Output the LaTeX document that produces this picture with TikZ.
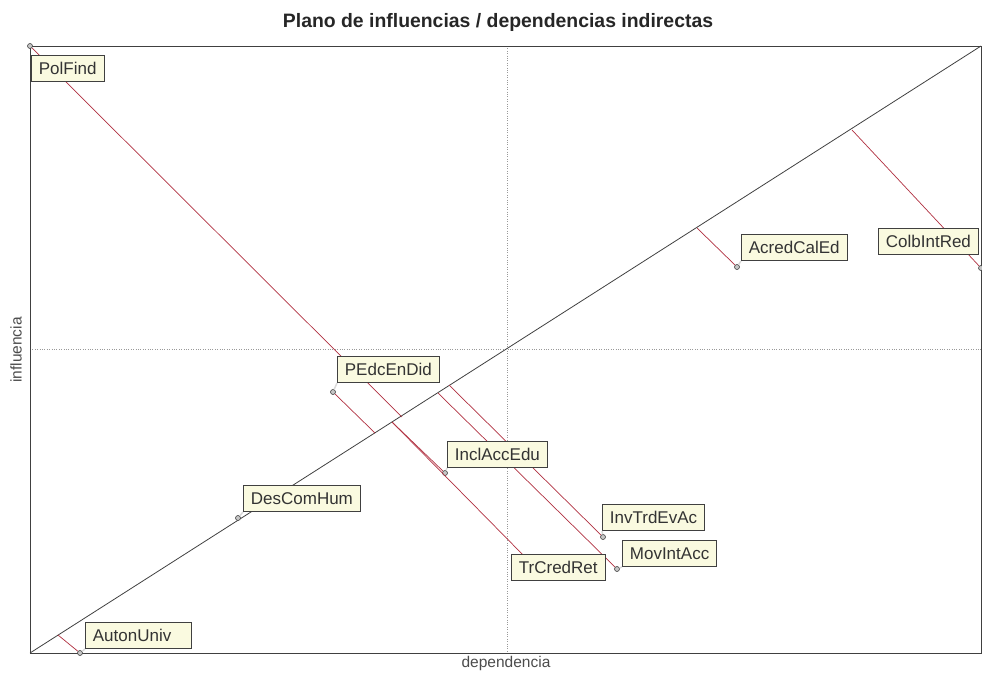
\documentclass[tikz,border=0pt]{standalone}
\usepackage{fontspec}
\setmainfont{Liberation Sans}
\usetikzlibrary{calc}
\definecolor{linkred}{RGB}{176,48,64}
\definecolor{boxfill}{RGB}{250,250,224}
\definecolor{framegray}{RGB}{64,64,64}

\begin{document}
\begin{tikzpicture}[x=1pt,y=-1pt,
  var/.style={circle,draw=framegray,fill=gray!45,inner sep=0pt,minimum size=5pt,line width=0.6pt},
  tag/.style={draw=framegray,fill=boxfill,text=black!80,anchor=south west,inner xsep=7.5pt,
    minimum height=26pt,line width=0.8pt,font=\fontsize{17}{19}\selectfont},
  lead/.style={gray!30,line width=1.5pt},
  link/.style={linkred,line width=0.7pt}]
\useasboundingbox (0,0) rectangle (982,672);

% frame, cross and diagonal
\coordinate (sw) at (30,653);
\coordinate (ne) at (981,46);
\draw[dotted,gray!80] (507,46) -- (507,653);
\draw[dotted,gray!80] (30,349) -- (981,349);
\draw[framegray,line width=0.9pt] (30,46) rectangle (ne |- sw);
\draw[framegray,line width=0.8pt] (sw) -- (ne);

\node[font=\bfseries\fontsize{19.4}{22}\selectfont,text=black!85] (title) at (498,22) {Plano de influencias / dependencias indirectas};
\node[rotate=90,font=\fontsize{15.5}{17}\selectfont,text=black!70] (ylab) at (16,350) {influencia};
\node[font=\fontsize{15.5}{17}\selectfont,text=black!70] (xlab) at (506,663) {dependencia};

% variables
\node[var] (pPolFind) at (30,46) {};
\node[var] (pPEdcEnDid) at (333,392) {};
\node[var] (pInclAccEdu) at (445,473) {};
\node[var] (pTrCredRet) at (530,562) {};
\node[var] (pInvTrdEvAc) at (603,537) {};
\node[var] (pMovIntAcc) at (617,569) {};
\node[var] (pAcredCalEd) at (737,267) {};
\node[var] (pColbIntRed) at (981,268) {};
\node[var] (pDesComHum) at (238,518) {};
\node[var] (pAutonUniv) at (80,653) {};

% feet on the diagonal
\coordinate (fPolFind) at (402,417);
\coordinate (fPEdcEnDid) at (375,433);
\coordinate (fInclAccEdu) at (392,422);
\coordinate (fInvTrdEvAc) at (449,385);
\coordinate (fMovIntAcc) at (438,393);
\coordinate (fAcredCalEd) at (697,228);
\coordinate (fColbIntRed) at (852,130);
\coordinate (fAutonUniv) at (58,635);

\draw[link] (fPolFind) -- (pPolFind);
\draw[link] (fPEdcEnDid) -- (pPEdcEnDid);
\draw[link] (fInclAccEdu) -- (pInclAccEdu);
\draw[link] (fInclAccEdu) -- (pTrCredRet);
\draw[link] (fInvTrdEvAc) -- (pInvTrdEvAc);
\draw[link] (fMovIntAcc) -- (pMovIntAcc);
\draw[link] (fAcredCalEd) -- (pAcredCalEd);
\draw[link] (fColbIntRed) -- (pColbIntRed);
\draw[link] (fAutonUniv) -- (pAutonUniv);

% labels
\node[tag] (tPolFind) at (31,82) {PolFind};
\node[tag] (tPEdcEnDid) at (337,383) {PEdcEnDid};
\node[tag] (tInclAccEdu) at (447,468) {InclAccEdu};
\node[tag] (tTrCredRet) at (511,581) {TrCredRet};
\node[tag] (tInvTrdEvAc) at (602,531) {InvTrdEvAc};
\node[tag] (tMovIntAcc) at (622,567) {MovIntAcc};
\node[tag] (tAcredCalEd) at (741,261) {AcredCalEd};
\node[tag] (tColbIntRed) at (878,255) {ColbIntRed};
\node[tag] (tDesComHum) at (243,512) {DesComHum};
\node[tag,text width=91pt,align=left] (tAutonUniv) at (85,649) {AutonUniv};

\draw[lead] (pPEdcEnDid) -- (tPEdcEnDid.south west);
\draw[lead] (pInclAccEdu) -- (tInclAccEdu.south west);
\draw[lead] (pInvTrdEvAc) -- (tInvTrdEvAc.south west);
\draw[lead] (pMovIntAcc) -- (tMovIntAcc.south west);
\draw[lead] (pAcredCalEd) -- (tAcredCalEd.south west);
\draw[lead] (pDesComHum) -- (tDesComHum.south west);
\draw[lead] (pAutonUniv) -- (tAutonUniv.south west);
\end{tikzpicture}
\end{document}
